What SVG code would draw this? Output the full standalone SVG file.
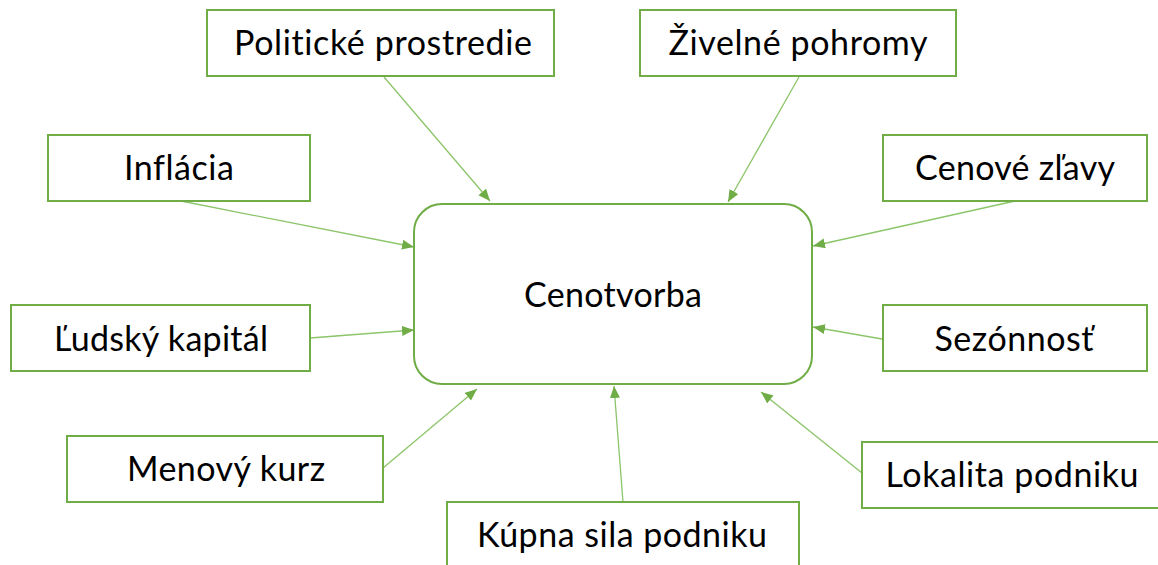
<svg xmlns="http://www.w3.org/2000/svg" width="1158" height="565" viewBox="0 0 1158 565">
<defs>
<style>
.box{fill:#fff;stroke:#70AD47;stroke-width:2}
.lbl{font-family:Lato,"Open Sans","Liberation Sans",sans-serif;font-size:34px;fill:#000;text-anchor:middle;font-variant-ligatures:none;font-feature-settings:"liga" 0,"dlig" 0}
.con{stroke:#8CC56A;stroke-width:1.3;fill:none;marker-end:url(#ah)}
</style>
<marker id="ah" markerUnits="userSpaceOnUse" markerWidth="14" markerHeight="12" refX="12" refY="5" orient="auto">
<path d="M0,0 L12,5 L0,10 Z" fill="#70AD47"/>
</marker>
</defs>
<rect width="1158" height="565" fill="#fff"/>
<g id="connectors">
<line class="con" x1="384" y1="77" x2="490" y2="201"/>
<line class="con" x1="799" y1="77" x2="728" y2="202"/>
<line class="con" x1="181" y1="201" x2="414" y2="247"/>
<line class="con" x1="1015" y1="201" x2="813" y2="246"/>
<line class="con" x1="310" y1="338" x2="414" y2="330"/>
<line class="con" x1="882" y1="339" x2="813" y2="327"/>
<line class="con" x1="383" y1="468" x2="477" y2="389"/>
<line class="con" x1="862" y1="473" x2="761" y2="392"/>
<line class="con" x1="623" y1="502" x2="614" y2="386"/>
</g>
<g id="center">
<rect class="box" x="414" y="204" width="398" height="180" rx="28" ry="28"/>
<text class="lbl" x="613" y="307" textLength="178">Cenotvorba</text>
</g>
<g id="politicke">
<rect class="box" x="207" y="10" width="347" height="66"/>
<text class="lbl" x="383" y="55" textLength="298">Politické prostredie</text>
</g>
<g id="zivelne">
<rect class="box" x="640" y="10" width="316" height="66"/>
<text class="lbl" x="798" y="55" textLength="259">Živelné pohromy</text>
</g>
<g id="inflacia">
<rect class="box" x="48" y="135" width="262" height="66"/>
<text class="lbl" x="179" y="180" textLength="110">Inflácia</text>
</g>
<g id="cenove">
<rect class="box" x="883" y="135" width="264" height="66"/>
<text class="lbl" x="1015" y="180" textLength="200">Cenové zľavy</text>
</g>
<g id="ludsky">
<rect class="box" x="11" y="305" width="299" height="66"/>
<text class="lbl" x="161" y="351" textLength="214">Ľudský kapitál</text>
</g>
<g id="sezonnost">
<rect class="box" x="883" y="305" width="264" height="66"/>
<text class="lbl" x="1014" y="351" textLength="159">Sezónnosť</text>
</g>
<g id="menovy">
<rect class="box" x="67" y="436" width="316" height="66"/>
<text class="lbl" x="226" y="481" textLength="198">Menový kurz</text>
</g>
<g id="lokalita">
<rect class="box" x="862" y="442" width="310" height="66"/>
<text class="lbl" x="1012" y="487" textLength="253">Lokalita podniku</text>
</g>
<g id="kupna">
<rect class="box" x="447" y="502" width="352" height="80"/>
<text class="lbl" x="622" y="547" textLength="290">Kúpna sila podniku</text>
</g>
</svg>
